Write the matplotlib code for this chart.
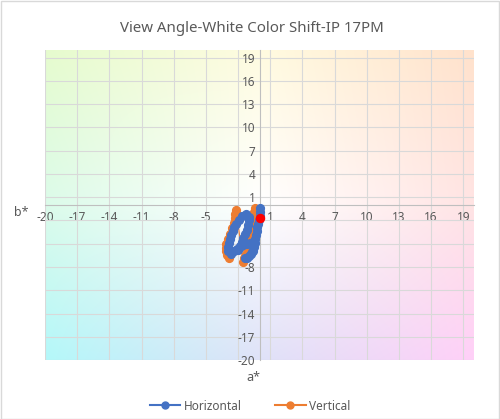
import numpy as np
import matplotlib
matplotlib.use('Agg')
import matplotlib.pyplot as plt
from matplotlib.colors import to_rgb
from matplotlib.lines import Line2D

plt.rcParams['font.family'] = ['Noto Sans', 'DejaVu Sans']
plt.rcParams['axes.unicode_minus'] = False

# chart data (a*, b*)
title = 'View Angle-White Color Shift-IP 17PM'
ticks = list(range(-20, 20, 3))

horiz_a = [0.05, 0.05, 0.0, -0.05, -0.1, -0.2, -0.25, -0.35, -0.4, -0.45, -0.55, -0.65, -0.8, -0.95, -1.15, -1.35,
           -0.6, -0.9, -1.2, -1.5, -1.8, -2.1, -2.4, -2.7, -2.9, -2.95, -2.85, -2.75, -2.65, -2.5, -2.35, -2.15,
           -1.9, -1.6, -1.3, -1.0, -0.95, -1.05, -1.2, -1.35, -1.5, -1.65, -1.85, -2.05]
horiz_b = [-0.4, -0.9, -1.4, -1.9, -2.4, -2.9, -3.4, -3.9, -4.4, -4.9, -5.4, -5.9, -6.3, -6.6, -6.8, -6.9,
           -4.8, -4.9, -5.0, -5.2, -5.4, -5.7, -6.0, -6.3, -5.9, -5.4, -4.9, -4.4, -3.9, -3.4, -2.9, -2.4,
           -1.9, -1.4, -1.1, -1.5, -2.0, -2.6, -3.2, -3.8, -4.3, -4.8, -5.3, -5.8]

vert_a = [-0.4, -0.5, -0.6, -0.65, -0.7, -0.75, -0.8, -0.9, -1.0, -1.1, -1.25, -1.4, -1.55,
          -2.15, -2.25, -2.3, -2.35, -2.55, -2.75, -2.95, -3.1, -3.15, -3.15, -3.0, -2.85]
vert_b = [-0.4, -0.9, -1.5, -2.1, -2.7, -3.3, -3.9, -4.5, -5.1, -5.7, -6.3, -6.9, -7.4,
          -0.6, -1.1, -1.7, -2.3, -3.0, -3.8, -4.4, -5.0, -5.5, -6.0, -6.5, -6.9]

center_a = [0.0]
center_b = [-1.7]

fig = plt.figure(figsize=(5, 4.19), dpi=100)
ax = fig.add_axes([0.09, 0.1408, 0.858, 0.7399])

# background colour field
grid_cols = [['#b4f8fa', '#dfe2f8', '#ffd0f8'],
             ['#dcfbea', '#ffffff', '#ffe4e4'],
             ['#e6fcce', '#fffbe0', '#ffe2cc']]
C = np.array([[to_rgb(c) for c in row] for row in grid_cols])
n = 200
u = np.linspace(0, 2, n)
i0 = np.clip(u.astype(int), 0, 1)
f = u - i0
img = np.zeros((n, n, 3))
for r in range(n):
    for c in range(n):
        a0, fa = i0[c], f[c]
        b0, fb = i0[r], f[r]
        img[r, c] = (C[b0, a0] * (1 - fa) * (1 - fb) + C[b0, a0 + 1] * fa * (1 - fb)
                     + C[b0 + 1, a0] * (1 - fa) * fb + C[b0 + 1, a0 + 1] * fa * fb)
ax.imshow(img, extent=[-20, 20, -20, 20], origin='lower', aspect='auto', zorder=0,
          interpolation='bilinear')

ax.plot(vert_a, vert_b, color='#ed7d31', lw=0.8, marker='o', ms=5.6, zorder=3)
ax.plot(horiz_a, horiz_b, color='#4472c4', lw=0.8, marker='o', ms=5.6, zorder=4)
ax.plot(center_a, center_b, ls='none', color='#ff0000', marker='o', ms=5.8, zorder=5)

ax.set_xlim(-20, 20)
ax.set_ylim(-20, 20)
ax.set_xticks(ticks)
ax.set_yticks(ticks)
ax.grid(True, color='#d9d9d9', lw=0.8)
for s in ['top', 'right']:
    ax.spines[s].set_visible(False)
ax.spines['left'].set_position(('data', 0))
ax.spines['bottom'].set_position(('data', 0))
ax.spines['left'].set_color('#bfbfbf')
ax.spines['bottom'].set_color('#bfbfbf')
ax.tick_params(length=0, labelsize=8.5, labelcolor='#595959', pad=4)
ax.tick_params(axis='y', pad=3)

fig.text(0.504, 0.933, title, ha='center', va='center', fontsize=10.8, color='#595959')
fig.text(0.042, 0.494, 'b*', ha='center', va='center', fontsize=9, color='#595959')
fig.text(0.506, 0.098, 'a*', ha='center', va='center', fontsize=9, color='#595959')

handles = [Line2D([], [], color='#4472c4', marker='o', ms=5, lw=1.5),
           Line2D([], [], color='#ed7d31', marker='o', ms=5, lw=1.5)]
fig.legend(handles, ['Horizontal', 'Vertical'], loc='center', bbox_to_anchor=(0.5, 0.031),
           ncol=2, frameon=False, fontsize=8.5, labelcolor='#595959', handlelength=2.6,
           columnspacing=2.8, handletextpad=0.3)

fig.patches.append(plt.Rectangle((0.001, 0.001), 0.997, 0.997, transform=fig.transFigure,
                                 fill=False, edgecolor='#d9d9d9', lw=1))

fig.savefig('out.png', dpi=100)
